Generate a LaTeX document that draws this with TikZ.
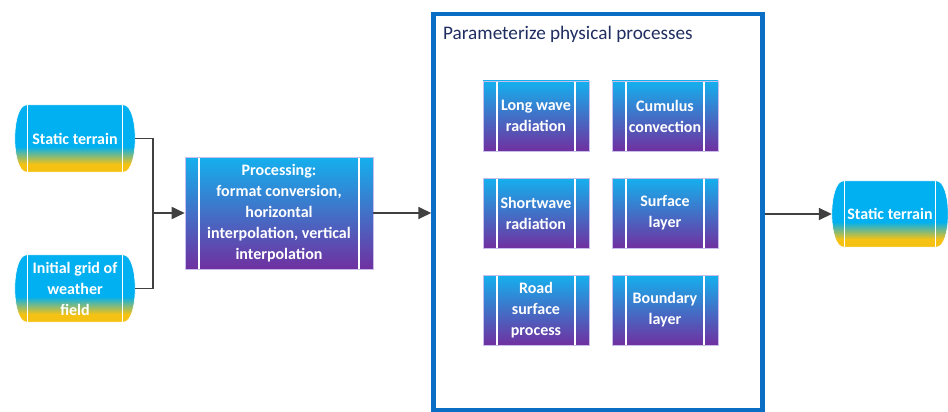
\documentclass[tikz,border=0pt]{standalone}
\usepackage{fontspec}
\setmainfont{Carlito}
\usetikzlibrary{arrows.meta,backgrounds,calc}
\definecolor{cyn}{RGB}{0,176,240}
\definecolor{ylw}{RGB}{245,194,20}
\definecolor{prp}{RGB}{112,48,160}
\definecolor{pcyn}{RGB}{20,176,238}
\definecolor{bluebd}{RGB}{10,110,196}
\definecolor{navy}{RGB}{31,45,96}
\definecolor{arr}{RGB}{64,64,64}
\definecolor{lav}{RGB}{200,190,235}
\pgfdeclareverticalshading{cylshade}{100bp}{color(0bp)=(ylw); color(27bp)=(ylw); color(31bp)=(ylw); color(44bp)=(cyn); color(100bp)=(cyn)}
\tikzset{
  lbl/.style={text=white, font=\bfseries\fontsize{16}{21}\selectfont, align=center, inner sep=0pt},
  cylnode/.style={lbl, minimum height=67pt},
  procbox/.style={lbl, rectangle, draw=lav, line width=0.6pt, top color=pcyn, bottom color=prp,
    path picture={
      \draw[white, line width=1.3pt] ([xshift=#1]path picture bounding box.north west) -- ([xshift=#1]path picture bounding box.south west);
      \draw[white, line width=1.3pt] ([xshift=-#1]path picture bounding box.north east) -- ([xshift=-#1]path picture bounding box.south east);
    }},
  smallbox/.style={procbox=14pt, minimum width=106pt, minimum height=70pt},
  conn/.style={draw=arr, line width=1.8pt},
  arrow/.style={conn, -{Triangle[length=13pt,width=12pt]}},
  outerbox/.style={draw=bluebd, line width=4.5pt, inner sep=0pt},
}
\newcommand{\cylshape}[1]{%
  \shade[shading=cylshade, draw=white, line width=0.6pt]
    ([xshift=12pt]#1.north west) -- ([xshift=-12pt]#1.north east)
    .. controls ([xshift=4pt]#1.north east) and ([xshift=4pt]#1.south east) .. ([xshift=-12pt]#1.south east)
    -- ([xshift=12pt]#1.south west)
    .. controls ([xshift=-4pt]#1.south west) and ([xshift=-4pt]#1.north west) .. ([xshift=12pt]#1.north west) -- cycle;
  \draw[white, line width=1.3pt] ([xshift=13pt]#1.north west) -- ([xshift=13pt]#1.south west);
  \draw[white, line width=1.3pt] ([xshift=-13pt]#1.north east) -- ([xshift=-13pt]#1.south east);
}
\begin{document}
\begin{tikzpicture}[x=1pt,y=-1pt]
\useasboundingbox (0,0) rectangle (948,412);
\clip (0,0) rectangle (948,412);
% input cylinders
\node[cylnode, minimum width=120pt] (st1) at (75,138.5) {Static terrain};
\node[cylnode, minimum width=120pt] (ig) at (75,288.5) {Initial grid of\\weather\\field};
% processing
\node[procbox=14pt, minimum width=188pt, minimum height=112pt] (proc) at (279,213) {Processing:\\format conversion,\\horizontal\\interpolation, vertical\\interpolation};
% big box
\node[outerbox, minimum width=329pt, minimum height=396pt] (pp) at (598,212) {};
\node[anchor=base west, text=navy, font=\fontsize{19.2}{22}\selectfont, inner sep=0pt] (ttl) at (443,39.5) {Parameterize physical processes};
% inner boxes
\node[smallbox] (lw) at (536,116) {Long wave\\radiation};
\node[smallbox] (cu) at (665,116) {Cumulus\\convection};
\node[smallbox] (sw) at (536,213) {Shortwave\\radiation};
\node[smallbox] (sl) at (665,213) {Surface\\layer};
\node[smallbox] (rs) at (536,310) {Road\\surface\\process};
\node[smallbox] (bl) at (665,310) {Boundary\\layer};
% output cylinder
\node[cylnode, minimum width=116pt, minimum height=66pt] (st3) at (890,214) {Static terrain};
\begin{scope}[on background layer]
  \cylshape{st1}
  \cylshape{ig}
  \cylshape{st3}
\end{scope}
% connectors
\coordinate (j) at (153,213);
\draw[conn] (st1.east) -| (j);
\draw[conn] (ig.east) -| (j);
\draw[arrow] (j) -- (j -| proc.west);
\draw[arrow] (proc.east) -- (proc.east -| pp.west);
\draw[arrow] (pp.east |- st3.west) -- (st3.west);
\end{tikzpicture}
\end{document}
